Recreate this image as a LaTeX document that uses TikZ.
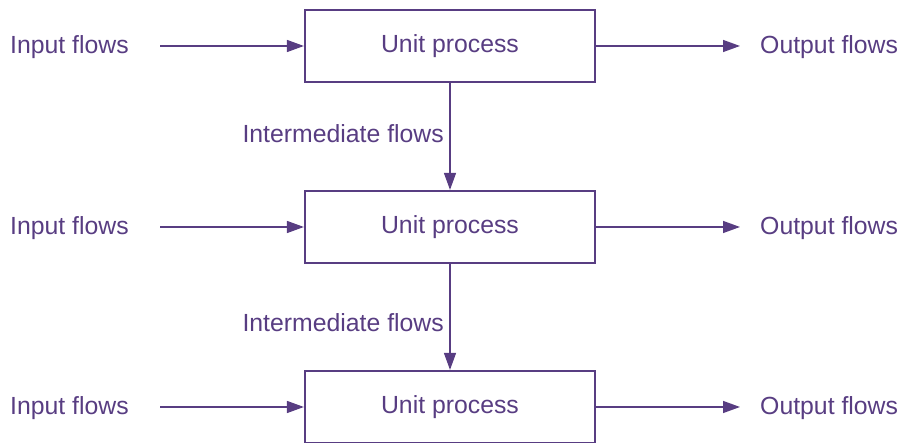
\documentclass[tikz,border=0pt]{standalone}
\usepackage{fontspec}
\setmainfont{Liberation Sans}
\usetikzlibrary{arrows.meta}
\definecolor{pur}{HTML}{583D82}
\begin{document}
\begin{tikzpicture}[x=1pt,y=1pt,
  procbox/.style={draw=pur,line width=2.2pt,minimum width=290pt,minimum height=72pt,inner sep=0pt,text=pur,font=\fontsize{24.8}{29}\selectfont},
  lbl/.style={text=pur,inner sep=0pt,font=\fontsize{24.8}{29}\selectfont},
  flow/.style={draw=pur,line width=1.4pt,-{Triangle[length=17pt,width=12pt]}}]
\useasboundingbox (0,0) rectangle (903,443);
\foreach \i/\y in {1/397,2/216,3/36}{
  \node[procbox] (p\i) at (450,\y) {\raisebox{-1.5pt}{Unit process}};
  \node[lbl,anchor=west] (in\i) at (10,\y-1.5) {Input flows};
  \node[lbl,anchor=west] (out\i) at (760,\y-1.5) {Output flows};
  \coordinate (ins\i) at (160,\y);
  \coordinate (oute\i) at (740,\y);
  \draw[flow] (ins\i) -- (p\i.west);
  \draw[flow] (p\i.east) -- (oute\i);
}
\draw[flow] (p1.south) -- (p2.north);
\draw[flow] (p2.south) -- (p3.north);
\node[lbl,anchor=east] (im1) at (444,309) {Intermediate flows};
\node[lbl,anchor=east] (im2) at (444,120) {Intermediate flows};
\end{tikzpicture}
\end{document}
